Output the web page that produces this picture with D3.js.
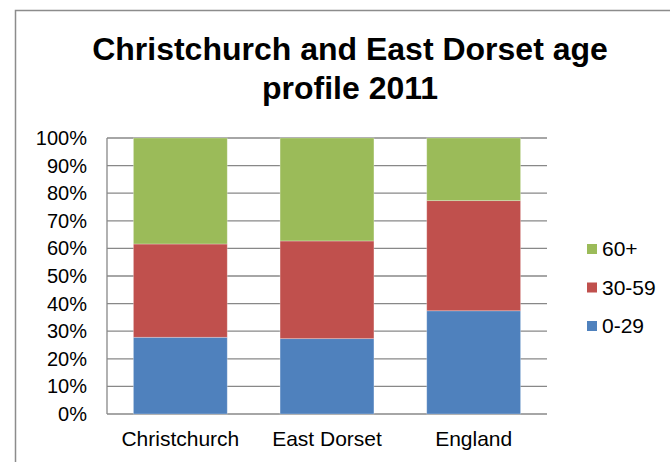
<!DOCTYPE html>
<html lang="en">
<head>
<meta charset="UTF-8">
<title>Christchurch and East Dorset age profile 2011</title>
<script src="https://d3js.org/d3.v7.min.js"></script>
<style>
    body { margin: 0; background: #fff; font-family: Arial, "Liberation Sans", sans-serif; }
    svg text { fill: #000; }
</style>
</head>
<body>
<div id="chart"></div>
<script>
    // data (percent of population)
    const areas = ["Christchurch", "East Dorset", "England"];
    const ageGroups = ["0-29", "30-59", "60+"];
    const young = [27.8, 27.3, 37.4];
    const middle = [33.8, 35.4, 39.9];
    const older = [38.4, 37.3, 22.7];
    const yTicks = [0, 10, 20, 30, 40, 50, 60, 70, 80, 90, 100];
    const colors = { "0-29": "#4F81BD", "30-59": "#C0504D", "60+": "#9BBB59" };

    const W = 670, H = 462;
    const plot = { left: 107, right: 547, top: 138, bottom: 414 };

    const rows = areas.map((a, i) => ({ area: a, "0-29": young[i], "30-59": middle[i], "60+": older[i] }));
    const stacked = d3.stack().keys(ageGroups)(rows);

    const svg = d3.select("#chart").append("svg")
        .attr("width", W)
        .attr("height", H);

    // chart border
    svg.append("rect")
        .attr("x", 15.5).attr("y", 10.5)
        .attr("width", W).attr("height", H)
        .attr("fill", "none")
        .attr("stroke", "#8c8c8c")
        .attr("stroke-width", 1.5);

    const x = d3.scaleBand()
        .domain(areas)
        .range([plot.left, plot.right])
        .paddingInner(0.36)
        .paddingOuter(0.18);

    const y = d3.scaleLinear()
        .domain([0, 100])
        .range([plot.bottom, plot.top]);

    // gridlines
    svg.append("g")
        .selectAll("line")
        .data(yTicks)
        .join("line")
        .attr("x1", plot.left).attr("x2", plot.right)
        .attr("y1", d => y(d)).attr("y2", d => y(d))
        .attr("stroke", "#888")
        .attr("stroke-width", 1.3);

    // y axis line
    svg.append("line")
        .attr("x1", plot.left).attr("x2", plot.left)
        .attr("y1", plot.top).attr("y2", plot.bottom)
        .attr("stroke", "#888")
        .attr("stroke-width", 1.3);

    // y tick labels
    svg.append("g")
        .selectAll("text")
        .data(yTicks)
        .join("text")
        .attr("x", 87)
        .attr("y", d => y(d))
        .attr("dy", "0.35em")
        .attr("text-anchor", "end")
        .style("font-size", "20px")
        .text(d => d + "%");

    // bars
    svg.append("g")
        .selectAll("g")
        .data(stacked)
        .join("g")
        .attr("fill", d => colors[d.key])
        .selectAll("rect")
        .data(d => d)
        .join("rect")
        .attr("x", d => x(d.data.area))
        .attr("width", x.bandwidth())
        .attr("y", d => y(d[1]))
        .attr("height", d => y(d[0]) - y(d[1]))
        .attr("stroke", "rgba(255,255,255,0.35)")
        .attr("stroke-width", 0.8);

    // category labels
    svg.append("g")
        .selectAll("text")
        .data(areas)
        .join("text")
        .attr("x", d => x(d) + x.bandwidth() / 2)
        .attr("y", 446)
        .attr("text-anchor", "middle")
        .style("font-size", "21px")
        .text(d => d);

    // legend (top to bottom: 60+, 30-59, 0-29)
    const legend = svg.append("g")
        .selectAll("g")
        .data(ageGroups.slice().reverse())
        .join("g")
        .attr("transform", (d, i) => `translate(587,${249 + i * 38.5})`);

    legend.append("rect")
        .attr("x", 0).attr("y", -5)
        .attr("width", 10).attr("height", 10)
        .attr("fill", d => colors[d]);

    legend.append("text")
        .attr("x", 15)
        .attr("dy", "0.35em")
        .style("font-size", "21px")
        .text(d => d);

    // title
    const title = svg.append("text")
        .attr("text-anchor", "middle")
        .style("font-size", "32px")
        .style("font-weight", "bold");
    title.append("tspan").attr("x", 350).attr("y", 60).text("Christchurch and East Dorset age");
    title.append("tspan").attr("x", 350).attr("y", 99).text("profile 2011");
</script>
</body>
</html>
